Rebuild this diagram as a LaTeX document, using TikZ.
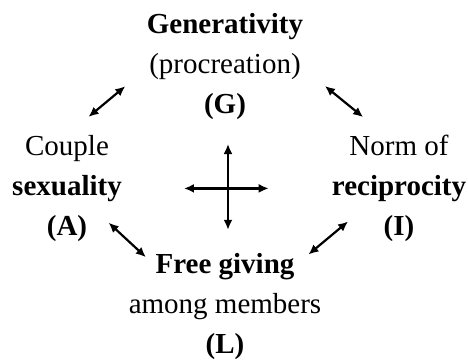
\documentclass[tikz,border=0pt]{standalone}
\usepackage{fontspec}
\setmainfont{Liberation Serif}
\usetikzlibrary{positioning, arrows.meta}

\begin{document}
\begin{tikzpicture}[
	x=1bp, y=1bp,
	node distance=14bp,
	term/.style={inner sep=0pt, text height=20bp, text depth=6bp, font=\fontsize{29bp}{40bp}\selectfont},
	keyterm/.style={term, font=\fontsize{29bp}{40bp}\selectfont\bfseries},
	arrow/.style={{Latex[length=10bp,width=9bp]}-{Latex[length=10bp,width=9bp]}, line width=2.2bp}
	]
	\useasboundingbox (0,0) rectangle (468,-363);
	
	% G: top
	\node[keyterm] (gen) at (225,-26) {Generativity};
	\node[term, below=of gen] (procr) {(procreation)};
	\node[keyterm, below=of procr] (G) {(G)};
	
	% A: left
	\node[term] (couple) at (67,-148) {Couple};
	\node[keyterm, below=of couple] (sex) {sexuality};
	\node[keyterm, below=of sex] (A) {(A)};
	
	% I: right
	\node[term] (norm) at (399,-148) {Norm of};
	\node[keyterm, below=of norm] (recip) {reciprocity};
	\node[keyterm, below=of recip] (I) {(I)};
	
	% L: bottom
	\node[keyterm] (free) at (225,-266) {Free giving};
	\node[term, below=of free] (among) {among members};
	\node[keyterm, below=of among] (L) {(L)};
	
	% Arrows
	\draw[arrow, shorten <=31bp, shorten >=28bp] (procr.west) -- (couple.north);
	\draw[arrow, shorten <=31bp, shorten >=28bp] (procr.east) -- (norm.137);
	\draw[arrow, shorten <=31bp, shorten >=13bp] (sex.-35) -- (free.west);
	\draw[arrow, shorten <=31bp, shorten >=18bp] (recip.206) -- (free.east);
	
	% Cross
	\draw[arrow, shorten <=24bp, shorten >=23bp] ([xshift=3bp]G.south) -- ([xshift=3bp]free.north);
	\draw[arrow, shorten <=62bp, shorten >=63bp] (sex.east) -- (recip.west);
	
\end{tikzpicture}
\end{document}
